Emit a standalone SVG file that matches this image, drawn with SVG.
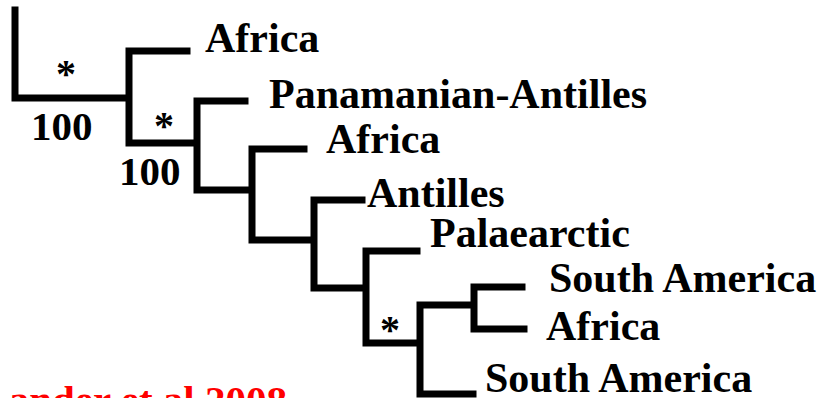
<svg xmlns="http://www.w3.org/2000/svg" width="822" height="398" viewBox="0 0 822 398">
<style>
.br{fill:none;stroke:#000;stroke-width:7;stroke-linejoin:miter;stroke-linecap:square}
text{font-family:"Times New Roman","Liberation Serif",serif;font-weight:bold}
.lb{font-size:42px;fill:#000}
.num{font-size:41px;fill:#000}
.ast{font-size:40px;fill:#000;text-anchor:middle}
.cite{font-size:41px;fill:#ff0000}
</style>
<rect width="822" height="398" fill="#fff"/>
<g id="connectors">
<path class="br" d="M15,10 V98 H126"/>
<path class="br" d="M187,51 H129 V143 H194"/>
<path class="br" d="M245,101 H197 V190 H249"/>
<path class="br" d="M304,149 H252 V240 H311"/>
<path class="br" d="M362,200 H314 V288 H363"/>
<path class="br" d="M417,251 H366 V343 H417"/>
<path class="br" d="M471,305 H420 V394 H473"/>
<path class="br" d="M522,287 H474 V329 H524"/>
</g>
<g id="support">
<text class="ast" x="66" y="87">*</text>
<text class="num" x="31" y="140">100</text>
<text class="ast" x="164" y="139">*</text>
<text class="num" x="119" y="185">100</text>
<text class="ast" x="390" y="343">*</text>
</g>
<g id="tip1"><text class="lb" x="205" y="52">Africa</text></g>
<g id="tip2"><text class="lb" x="269" y="108">Panamanian-Antilles</text></g>
<g id="tip3"><text class="lb" x="326" y="153">Africa</text></g>
<g id="tip4"><text class="lb" x="367" y="207">Antilles</text></g>
<g id="tip5"><text class="lb" x="430" y="247">Palaearctic</text></g>
<g id="tip6"><text class="lb" x="549" y="292">South America</text></g>
<g id="tip7"><text class="lb" x="546" y="340">Africa</text></g>
<g id="tip8"><text class="lb" x="485" y="392">South America</text></g>
<g id="citation"><text class="cite" x="287" y="414" text-anchor="end">ander et al 2008</text></g>
</svg>
